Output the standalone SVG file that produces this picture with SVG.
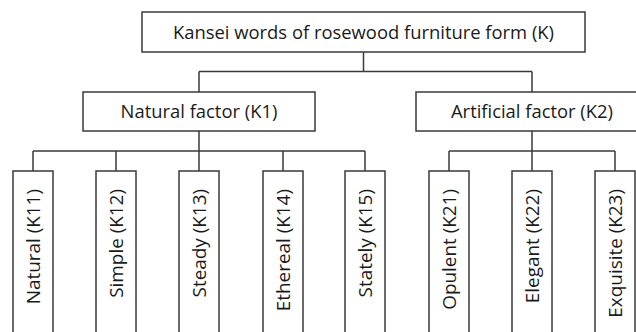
<svg xmlns="http://www.w3.org/2000/svg" width="636" height="332" viewBox="0 0 636 332">
<style>
.box{fill:#fff;stroke:#3a3a3a;stroke-width:1.5}
.ln{fill:none;stroke:#3a3a3a;stroke-width:1.5}
.t{font-family:"Open Sans","Noto Sans","DejaVu Sans",sans-serif;font-size:18.4px;fill:#1a1a1a}
.h{text-anchor:middle}
.v{text-anchor:end;font-size:18.9px}
</style>
<rect width="636" height="332" fill="#fff"/>
<g id="connectors">
<path class="ln" d="M363.5 52V71.5M199 71.5H532M199 71.5V92M532 71.5V92"/>
<path class="ln" d="M199 131V151M33 151H365M33 151V171M116 151V171M199 151V171M283 151V171M365 151V171"/>
<path class="ln" d="M532 131V151M449 151H615M449 151V171M532 151V171M615 151V171"/>
</g>
<g id="K"><rect class="box" x="142" y="12" width="443" height="40"/><text class="t h" x="363.5" y="38.5">Kansei words of rosewood furniture form (K)</text></g>
<g id="K1"><rect class="box" x="83" y="92" width="232" height="39"/><text class="t h" x="199" y="118">Natural factor (K1)</text></g>
<g id="K2"><rect class="box" x="416" y="92" width="232" height="39"/><text class="t h" x="532" y="118">Artificial factor (K2)</text></g>
<g id="K11"><rect class="box" x="13" y="171" width="40" height="165"/><text class="t v" transform="translate(39.5,189) rotate(-90)">Natural (K11)</text></g>
<g id="K12"><rect class="box" x="96" y="171" width="40" height="165"/><text class="t v" transform="translate(122.5,189) rotate(-90)">Simple (K12)</text></g>
<g id="K13"><rect class="box" x="179" y="171" width="40" height="165"/><text class="t v" transform="translate(205.5,189) rotate(-90)">Steady (K13)</text></g>
<g id="K14"><rect class="box" x="263" y="171" width="40" height="165"/><text class="t v" transform="translate(289.5,189) rotate(-90)">Ethereal (K14)</text></g>
<g id="K15"><rect class="box" x="345" y="171" width="40" height="165"/><text class="t v" transform="translate(371.5,189) rotate(-90)">Stately (K15)</text></g>
<g id="K21"><rect class="box" x="429" y="171" width="40" height="165"/><text class="t v" transform="translate(455.5,189) rotate(-90)">Opulent (K21)</text></g>
<g id="K22"><rect class="box" x="512" y="171" width="40" height="165"/><text class="t v" transform="translate(538.5,189) rotate(-90)">Elegant (K22)</text></g>
<g id="K23"><rect class="box" x="595" y="171" width="40" height="165"/><text class="t v" transform="translate(621.5,189) rotate(-90)">Exquisite (K23)</text></g>
</svg>
